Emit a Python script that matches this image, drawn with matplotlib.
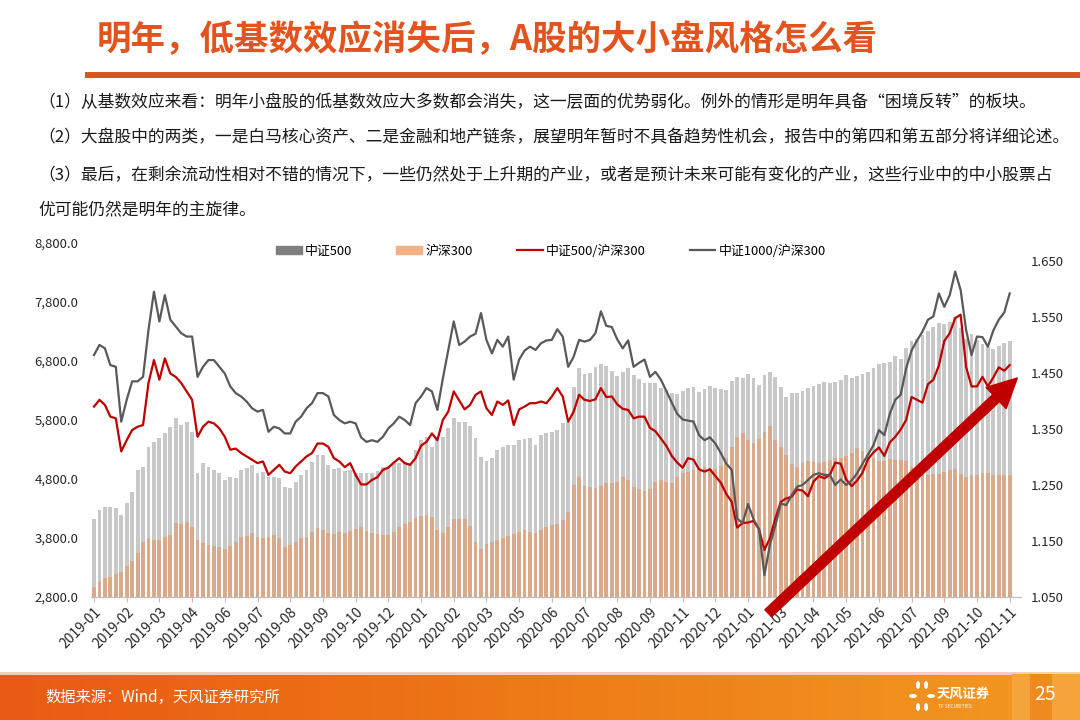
import numpy as np
import matplotlib
matplotlib.use("Agg")
import matplotlib.pyplot as plt
from matplotlib.patches import Patch, Rectangle, Ellipse
from matplotlib.lines import Line2D
from matplotlib.ticker import FuncFormatter
from matplotlib.colors import LinearSegmentedColormap

plt.rcParams['font.family'] = ['Noto Sans CJK SC', 'DejaVu Sans']
plt.rcParams['axes.unicode_minus'] = False

title = "明年，低基数效应消失后，A股的大小盘风格怎么看"
notes = [
    "（1）从基数效应来看：明年小盘股的低基数效应大多数都会消失，这一层面的优势弱化。例外的情形是明年具备“困境反转”的板块。",
    "（2）大盘股中的两类，一是白马核心资产、二是金融和地产链条，展望明年暂时不具备趋势性机会，报告中的第四和第五部分将详细论述。",
    "（3）最后，在剩余流动性相对不错的情况下，一些仍然处于上升期的产业，或者是预计未来可能有变化的产业，这些行业中的中小股票占",
    "优可能仍然是明年的主旋律。",
]
source = "数据来源：Wind，天风证券研究所"
series_names = ["中证500", "沪深300", "中证500/沪深300", "中证1000/沪深300"]

# x axis labels, one every 6 points
month_labels = [
    "2019-01", "2019-02", "2019-03", "2019-04", "2019-06", "2019-07", "2019-08",
    "2019-09", "2019-10", "2019-12", "2020-01", "2020-02", "2020-03", "2020-05",
    "2020-06", "2020-07", "2020-08", "2020-09", "2020-11", "2020-12", "2021-01",
    "2021-03", "2021-04", "2021-05", "2021-06", "2021-07", "2021-09", "2021-10",
    "2021-11",
]

# 中证500 (left axis, bars)
csi500 = [
    4130, 4275, 4330, 4330, 4305, 4190, 4390, 4585, 4955, 5010, 5350, 5435, 5490, 5575, 5685,
    5830, 5715, 5770, 5600, 4895, 5065, 5010, 4955, 4895, 4785, 4840, 4810, 4955, 4980, 5035,
    4895, 4925, 4840, 4840, 4810, 4670, 4640, 4755, 4870, 4955, 5095, 5205, 5205,
    5035, 4965, 4980, 4940, 4955, 4905, 4895, 4895, 4895, 4940, 5000, 5010, 5065, 5075, 5095,
    5075, 5290, 5460, 5520, 5350, 5460, 5520, 5660, 5830, 5770, 5770, 5700, 5490, 5180, 5110,
    5150, 5290, 5350, 5375, 5375, 5460, 5470, 5490, 5375, 5545, 5575, 5600,
    5630, 5745, 5770, 6365, 6675, 6580, 6600, 6695, 6750, 6715, 6635, 6545, 6620, 6675, 6565,
    6490, 6420, 6420, 6420, 6335, 6310, 6250, 6235, 6295, 6335, 6355, 6280, 6320, 6380, 6335,
    6325, 6310, 6465, 6525, 6505, 6580, 6505, 6395, 6565, 6620, 6525, 6365,
    6195, 6250, 6265, 6295, 6335, 6375, 6410, 6450, 6420, 6450, 6480, 6565, 6520, 6545, 6580,
    6620, 6675, 6750, 6760, 6790, 6885, 6830, 7015, 7145, 7165, 7240, 7315, 7370, 7440, 7425,
    7465, 7540, 7355, 7165, 7260, 7155, 7090, 7030, 7000, 7055, 7110, 7145,
]

# 沪深300 (left axis, bars)
hs300 = [
    2975, 3060, 3115, 3145, 3185, 3230, 3325, 3415, 3540, 3740, 3795, 3765, 3765, 3810, 3850,
    4050, 4035, 4075, 3990, 3765, 3710, 3680, 3665, 3640, 3610, 3665, 3740, 3825, 3835, 3880,
    3825, 3805, 3825, 3850, 3795, 3640, 3680, 3740, 3795, 3825, 3905, 3965, 3935,
    3880, 3860, 3895, 3890, 3925, 3945, 3980, 3925, 3890, 3870, 3850, 3855, 3905, 3980, 4035,
    4070, 4145, 4175, 4185, 4150, 3935, 3890, 3990, 4130, 4115, 4130, 4005, 3740, 3610, 3700,
    3730, 3765, 3795, 3830, 3870, 3905, 3935, 3895, 3880, 3935, 3990, 4015,
    4035, 4105, 4245, 4700, 4840, 4680, 4660, 4640, 4680, 4740, 4740, 4755, 4830, 4785, 4660,
    4625, 4600, 4625, 4755, 4785, 4755, 4725, 4830, 4895, 4925, 4955, 4965, 5000, 4970, 4965,
    5020, 5150, 5350, 5520, 5575, 5460, 5415, 5470, 5600, 5700, 5460, 5350,
    5205, 5055, 5010, 5065, 5110, 5085, 5075, 5095, 5115, 5150, 5150, 5190, 5245, 5320, 5280,
    5225, 5155, 5105, 5110, 5145, 5120, 5120, 5110, 5000, 4940, 4885, 4870, 4885, 4880, 4915,
    4955, 4975, 4885, 4830, 4870, 4875, 4905, 4905, 4875, 4870, 4870, 4870,
]

# 中证500/沪深300 (right axis)
ratio_500 = [
    1.390, 1.402, 1.393, 1.372, 1.369, 1.310, 1.330, 1.348, 1.354, 1.357, 1.432, 1.473, 1.438, 1.476, 1.449,
    1.443, 1.432, 1.417, 1.402, 1.336, 1.354, 1.363, 1.360, 1.351, 1.336, 1.313, 1.315, 1.307, 1.301, 1.295,
    1.289, 1.292, 1.268, 1.277, 1.286, 1.274, 1.271, 1.283, 1.292, 1.301, 1.307, 1.324, 1.324,
    1.318, 1.298, 1.292, 1.282, 1.289, 1.268, 1.251, 1.251, 1.259, 1.264, 1.277, 1.281, 1.290, 1.298, 1.289,
    1.286, 1.298, 1.320, 1.327, 1.342, 1.330, 1.366, 1.381, 1.417, 1.401, 1.385, 1.393, 1.411, 1.417, 1.387,
    1.375, 1.399, 1.393, 1.401, 1.357, 1.385, 1.390, 1.396, 1.396, 1.399, 1.396, 1.408,
    1.423, 1.408, 1.363, 1.381, 1.411, 1.402, 1.400, 1.403, 1.423, 1.407, 1.408, 1.394, 1.386, 1.384, 1.369,
    1.372, 1.372, 1.352, 1.346, 1.333, 1.320, 1.302, 1.290, 1.281, 1.298, 1.295, 1.278, 1.274, 1.278, 1.266,
    1.254, 1.234, 1.220, 1.174, 1.182, 1.183, 1.186, 1.171, 1.134, 1.155, 1.190, 1.220,
    1.226, 1.229, 1.242, 1.240, 1.230, 1.256, 1.266, 1.262, 1.268, 1.290, 1.288, 1.260, 1.248, 1.258, 1.272,
    1.296, 1.308, 1.317, 1.302, 1.326, 1.336, 1.349, 1.366, 1.407, 1.402, 1.397, 1.430, 1.438, 1.463, 1.507,
    1.521, 1.548, 1.554, 1.461, 1.426, 1.426, 1.443, 1.426, 1.442, 1.460, 1.454, 1.464,
]

# 中证1000/沪深300 (right axis)
ratio_1000 = [
    1.482, 1.500, 1.494, 1.464, 1.461, 1.363, 1.402, 1.435, 1.435, 1.443, 1.527, 1.595, 1.542, 1.589, 1.545,
    1.533, 1.521, 1.515, 1.515, 1.443, 1.461, 1.473, 1.473, 1.461, 1.449, 1.426, 1.414, 1.408, 1.399, 1.387,
    1.381, 1.384, 1.345, 1.354, 1.351, 1.342, 1.342, 1.363, 1.372, 1.387, 1.396, 1.414, 1.414,
    1.408, 1.375, 1.366, 1.360, 1.363, 1.360, 1.335, 1.327, 1.330, 1.327, 1.336, 1.351, 1.360, 1.372, 1.366,
    1.357, 1.396, 1.408, 1.423, 1.417, 1.384, 1.440, 1.491, 1.542, 1.500, 1.506, 1.515, 1.520, 1.557, 1.509,
    1.485, 1.509, 1.497, 1.515, 1.438, 1.474, 1.490, 1.497, 1.491, 1.503, 1.508, 1.509,
    1.528, 1.515, 1.461, 1.479, 1.509, 1.506, 1.509, 1.521, 1.560, 1.534, 1.532, 1.510, 1.494, 1.508, 1.461,
    1.468, 1.474, 1.443, 1.452, 1.438, 1.418, 1.397, 1.377, 1.367, 1.365, 1.363, 1.339, 1.330, 1.335, 1.324,
    1.307, 1.288, 1.277, 1.190, 1.182, 1.216, 1.189, 1.171, 1.089, 1.143, 1.177, 1.217,
    1.214, 1.232, 1.247, 1.250, 1.259, 1.268, 1.271, 1.268, 1.268, 1.250, 1.260, 1.250, 1.258, 1.271, 1.288,
    1.304, 1.321, 1.348, 1.339, 1.377, 1.402, 1.411, 1.458, 1.490, 1.508, 1.524, 1.545, 1.551, 1.592, 1.568,
    1.589, 1.631, 1.598, 1.527, 1.482, 1.515, 1.514, 1.497, 1.526, 1.545, 1.558, 1.592,
]

assert len(csi500) == len(hs300) == len(ratio_500) == len(ratio_1000) == 169

fig = plt.figure(figsize=(10.8, 7.2), dpi=100)

# header
fig.text(97 / 1080, 1 - 40 / 720, title, fontsize=24.8, fontweight='bold',
         color='#E2531E', ha='left', va='center')
fig.add_artist(Rectangle((85 / 1080, 1 - 78 / 720), 1, 6.5 / 720,
                         transform=fig.transFigure, color='#DA5620', lw=0))
for line, ypix in zip(notes, [102, 138, 176, 211]):
    fig.text(38 / 1080, 1 - ypix / 720, line, fontsize=12.1, color='#1A1A1A',
             ha='left', va='center')

# main chart
ax = fig.add_axes([0.084, 0.1708, 0.861, 0.4917])
x = np.arange(len(csi500))
ax.bar(x, csi500, width=0.7, color='#C8C8C8', lw=0, zorder=1)
ax.bar(x, hs300, width=0.7, color='#D9A98C', lw=0, zorder=2)
ax.set_xlim(-0.6, 170)
ax.set_ylim(2800, 8800)
ax.set_yticks(np.arange(2800, 8801, 1000))
ax.yaxis.set_major_formatter(FuncFormatter(lambda v, p: f"{v:,.1f}"))
ax.set_xticks(x[::6])
ax.set_xticklabels(month_labels, rotation=45, ha='right', rotation_mode='anchor')
for s in ['left', 'right', 'top']:
    ax.spines[s].set_visible(False)
ax.spines['bottom'].set_color('#BFBFBF')
ax.spines['bottom'].set_linewidth(0.9)
ax.tick_params(axis='x', length=3.5, color='#BFBFBF', labelsize=10, labelcolor='#262626', pad=2)
ax.tick_params(axis='y', length=0, labelsize=9.5, labelcolor='#262626', pad=9)

ax2 = ax.twinx()
ax2.plot(x, ratio_500, color='#C00000', lw=1.6, zorder=3)
ax2.plot(x, ratio_1000, color='#595959', lw=1.6, zorder=4)
ax2.set_ylim(1.05, 1.682)
ax2.set_yticks(np.round(np.arange(1.05, 1.66, 0.1), 2))
ax2.yaxis.set_major_formatter(FuncFormatter(lambda v, p: f"{v:.3f}"))
for s in ['left', 'right', 'top', 'bottom']:
    ax2.spines[s].set_visible(False)
ax2.tick_params(axis='y', length=0, labelsize=9.5, labelcolor='#262626', pad=7)

handles = [Patch(color='#7F7F7F'), Patch(color='#F4B183'),
           Line2D([], [], color='#C00000', lw=1.6), Line2D([], [], color='#595959', lw=1.6)]
ax2.legend(handles, series_names, loc='center', bbox_to_anchor=(0.495, 0.977), ncol=4,
           frameon=False, fontsize=9.3, handlelength=2.0, handleheight=0.6,
           handletextpad=0.25, columnspacing=3.4)

# trend arrow
ax2.annotate('', xy=(169.4, 1.441), xytext=(123.7, 1.021), annotation_clip=False,
             arrowprops=dict(facecolor='#C00000', edgecolor='#C00000', width=7,
                             headwidth=21, headlength=21, shrink=0), zorder=6)

# footer
fax = fig.add_axes([0, 0, 1, 48 / 720])
fax.set_xlim(0, 1080)
fax.set_ylim(720, 672)
fax.axis('off')
cmap = LinearSegmentedColormap.from_list('foot', ['#E95A14', '#EE7A17', '#F29A22'])
fax.imshow(np.linspace(0, 1, 256)[None, :], cmap=cmap, aspect='auto',
           extent=(0, 1080, 720, 674))
fax.add_patch(Rectangle((0, 672), 1080, 2.5, color='#F7CFB8', lw=0))
fax.add_patch(Rectangle((1012, 674), 68, 46, color='#F4A43A', lw=0))
fax.add_patch(Rectangle((1030, 674), 22, 46, color='#EE8A1E', lw=0))
fax.text(45, 697, source, color='white', fontsize=11, va='center', ha='left')
fax.text(1045, 695, "25", color='white', fontsize=14, va='center', ha='center')
for (ex, ey, ew, eh) in [(918, 685, 4, 8), (926, 685, 4, 8), (913, 696, 8, 4),
                         (931, 696, 8, 4), (918, 707, 4, 8), (926, 707, 4, 8)]:
    fax.add_patch(Ellipse((ex, ey), ew, eh, color='white', lw=0))
fax.text(937, 694, "天风证券", color='white', fontsize=9.5, fontweight='bold',
         va='center', ha='left')
fax.text(938, 707, "TF SECURITIES", color='white', fontsize=3.5, va='center', ha='left')

fig.savefig('out.png', dpi=100)
